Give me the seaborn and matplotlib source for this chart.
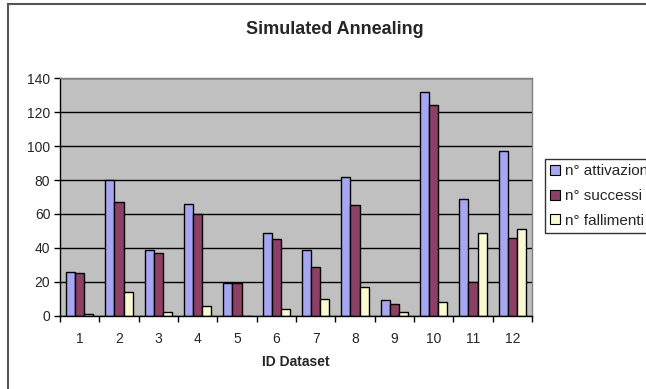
import matplotlib
matplotlib.use("Agg")
import matplotlib.pyplot as plt
import seaborn as sns
import pandas as pd
from matplotlib.patches import Rectangle
from matplotlib.ticker import FixedLocator

datasets = ["1", "2", "3", "4", "5", "6", "7", "8", "9", "10", "11", "12"]
attivazioni = [26, 80, 39, 66, 19, 49, 39, 82, 9, 132, 69, 97]
successi = [25, 67, 37, 60, 19, 45, 29, 65, 7, 124, 20, 46]
fallimenti = [1, 14, 2, 6, 0, 4, 10, 17, 2, 8, 49, 51]
series_names = ["n° attivazioni", "n° successi", "n° fallimenti"]
colors = ["#9999FF", "#993366", "#FFFFCC"]

rows = []
for name, vals in zip(series_names, [attivazioni, successi, fallimenti]):
    for d, v in zip(datasets, vals):
        rows.append({"ID Dataset": d, "value": v, "serie": name})
df = pd.DataFrame(rows)

sns.set_theme(style="white")
plt.rcParams["font.family"] = ["Liberation Sans", "DejaVu Sans"]

fig = plt.figure(figsize=(6.46, 3.89), dpi=100)
ax = fig.add_axes([60 / 646, 1 - 315.7 / 389, 472 / 646, 237.4 / 389])

sns.barplot(data=df, x="ID Dataset", y="value", hue="serie", order=datasets,
            hue_order=series_names, palette=colors, width=0.7, gap=0,
            edgecolor="black", linewidth=1.0, ax=ax, legend=True)

ax.set_facecolor("#C0C0C0")
ax.set_ylim(0, 140)
ax.set_xlim(-0.5, len(datasets) - 0.5)
ax.set_yticks(range(0, 141, 20))
ax.yaxis.grid(True, color="black", linewidth=1.0)
ax.set_axisbelow(True)
ax.tick_params(axis="y", left=True, length=4, width=1, color="black",
               labelsize=10, pad=3)
ax.tick_params(axis="x", which="major", bottom=False, labelsize=10, pad=6)
ax.xaxis.set_minor_locator(FixedLocator([i - 0.5 for i in range(len(datasets) + 1)]))
ax.tick_params(axis="x", which="minor", bottom=True, length=4, width=1, color="black")
ax.set_ylabel("")
ax.set_xlabel("ID Dataset", fontsize=10, fontweight="bold", labelpad=6)
for s in ["left", "bottom"]:
    ax.spines[s].set_color("black")
    ax.spines[s].set_linewidth(1.0)
for s in ["top", "right"]:
    ax.spines[s].set_color("#808080")
    ax.spines[s].set_linewidth(1.0)

fig.text(335 / 646, 1 - 30 / 389, "Simulated Annealing", fontsize=13,
         fontweight="bold", ha="center", va="center")

leg = ax.legend(loc="upper left", bbox_to_anchor=(545 / 646, 1 - 159 / 389),
                bbox_transform=fig.transFigure, frameon=True, fontsize=11,
                handlelength=0.65, handleheight=0.65, handletextpad=0.3,
                borderpad=0.35, labelspacing=0.7, fancybox=False,
                borderaxespad=0)
leg.get_frame().set_edgecolor("black")
leg.get_frame().set_linewidth(1.0)
for h in leg.legend_handles:
    h.set_edgecolor("black")
    h.set_linewidth(0.8)

fig.patches.append(Rectangle((8 / 646, -0.1), 1.2, 1 - 4 / 389 + 0.1,
                             transform=fig.transFigure, fill=False,
                             edgecolor="#555555", linewidth=1.5))

fig.savefig("out.png", dpi=100)
